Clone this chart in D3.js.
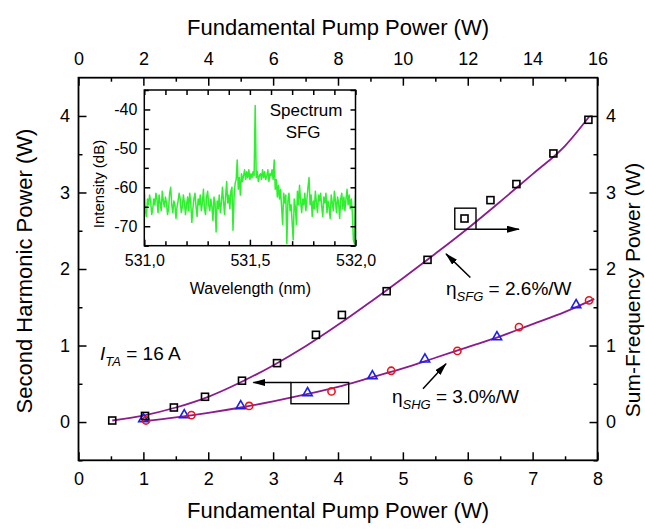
<!DOCTYPE html>
<html>
<head>
<meta charset="utf-8">
<script src="https://cdn.jsdelivr.net/npm/d3@7"></script>
<style>
  body { margin: 0; background: #fff; }
  svg { font-family: "Liberation Sans", Arial, sans-serif; }
</style>
</head>
<body>
<svg id="chart" width="645" height="529"></svg>
<script>
// SFG: black squares (right axis), x in bottom-axis units
const sfgX = [0.52, 1.025, 1.47, 1.95, 2.52, 3.06, 3.66, 4.06, 4.75, 5.38, 5.95, 6.35, 6.75, 7.32, 7.86];
const sfgY = [0.02, 0.08, 0.19, 0.33, 0.54, 0.77, 1.14, 1.40, 1.71, 2.12, 2.66, 2.90, 3.11, 3.51, 3.95];
// SHG: blue triangles and red circles (left axis)
const shgTriX = [1.0, 1.63, 2.50, 3.53, 4.53, 5.34, 6.45, 7.67];
const shgTriY = [0.03, 0.08, 0.20, 0.37, 0.59, 0.81, 1.10, 1.52];
const shgCirX = [1.04, 1.74, 2.63, 3.90, 4.82, 5.84, 6.79, 7.87];
const shgCirY = [0.02, 0.09, 0.21, 0.40, 0.67, 0.93, 1.24, 1.59];
// fit curves
const sfgFitX = [0.52, 1, 1.5, 2, 2.5, 3, 3.5, 4, 4.5, 5, 5.5, 6, 6.5, 7, 7.5, 7.87];
const sfgFitY = [0.02, 0.085, 0.19, 0.33, 0.52, 0.74, 0.99, 1.27, 1.57, 1.88, 2.20, 2.53, 2.88, 3.24, 3.61, 3.99];
const shgFitX = [1.0, 1.5, 2, 2.5, 3, 3.5, 4, 4.5, 5, 5.5, 6, 6.5, 7, 7.5, 7.95];
const shgFitY = [0.01, 0.06, 0.12, 0.19, 0.27, 0.36, 0.46, 0.58, 0.70, 0.84, 0.98, 1.12, 1.28, 1.44, 1.61];

// inset spectrum (nm, dB)
const specWl = [
  531.000,531.005,531.010,531.015,531.020,531.025,531.030,531.035,531.040,531.045,
  531.050,531.055,531.060,531.065,531.070,531.075,531.080,531.085,531.090,531.095,
  531.100,531.105,531.110,531.115,531.120,531.125,531.130,531.135,531.140,531.145,
  531.150,531.155,531.160,531.165,531.170,531.175,531.180,531.185,531.190,531.195,
  531.200,531.205,531.210,531.215,531.220,531.225,531.230,531.235,531.240,531.245,
  531.250,531.255,531.260,531.265,531.270,531.275,531.280,531.285,531.290,531.295,
  531.300,531.305,531.310,531.315,531.320,531.325,531.330,531.335,531.340,531.345,
  531.350,531.355,531.360,531.365,531.370,531.375,531.380,531.385,531.390,531.395,
  531.400,531.405,531.410,531.415,531.420,531.425,531.430,531.435,531.440,531.445,
  531.450,531.455,531.460,531.465,531.470,531.475,531.480,531.485,531.490,531.495,
  531.500,531.505,531.510,531.515,531.520,531.525,531.530,531.535,531.540,531.545,
  531.550,531.555,531.560,531.565,531.570,531.575,531.580,531.585,531.590,531.595,
  531.600,531.605,531.610,531.615,531.620,531.625,531.630,531.635,531.640,531.645,
  531.650,531.655,531.660,531.665,531.670,531.675,531.680,531.685,531.690,531.695,
  531.700,531.705,531.710,531.715,531.720,531.725,531.730,531.735,531.740,531.745,
  531.750,531.755,531.760,531.765,531.770,531.775,531.780,531.785,531.790,531.795,
  531.800,531.805,531.810,531.815,531.820,531.825,531.830,531.835,531.840,531.845,
  531.850,531.855,531.860,531.865,531.870,531.875,531.880,531.885,531.890,531.895,
  531.900,531.905,531.910,531.915,531.920,531.925,531.930,531.935,531.940,531.945,
  531.950,531.955,531.960,531.965,531.970,531.975,531.980,531.985,531.990,531.995,
  532.000];
const specDb = [
  -60.5,-66.0,-67.5,-63.0,-64.5,-62.0,-63.5,-67.0,-65.5,-63.0,
  -64.5,-61.5,-63.0,-66.5,-62.0,-64.0,-66.0,-61.0,-63.5,-65.0,
  -62.5,-64.0,-67.0,-65.5,-61.5,-60.0,-64.5,-66.5,-63.5,-64.5,
  -68.0,-65.0,-63.5,-61.5,-63.0,-66.5,-65.0,-62.0,-64.0,-67.0,
  -64.5,-62.5,-66.0,-61.5,-64.0,-69.0,-65.5,-63.0,-61.5,-65.0,
  -67.5,-63.0,-64.5,-62.0,-66.0,-64.0,-60.5,-65.5,-67.0,-62.5,
  -61.0,-64.5,-66.0,-63.0,-65.0,-68.5,-62.5,-64.0,-71.5,-63.5,
  -65.5,-62.0,-66.5,-64.0,-60.0,-63.5,-67.0,-62.5,-58.5,-64.0,
  -62.0,-65.5,-61.0,-60.0,-71.0,-62.5,-59.0,-58.0,-53.0,-60.5,
  -57.5,-62.0,-56.5,-58.5,-57.0,-55.5,-58.0,-56.0,-57.5,-55.5,
  -58.0,-56.5,-57.5,-56.0,-57.0,-39.0,-57.5,-56.0,-58.5,-57.0,
  -56.5,-58.0,-55.5,-57.5,-56.0,-58.0,-57.0,-55.5,-58.5,-56.5,
  -57.0,-55.5,-58.0,-53.0,-60.5,-58.0,-62.5,-59.5,-63.0,-60.5,
  -65.0,-69.5,-61.5,-64.0,-62.0,-74.5,-63.5,-61.5,-66.0,-64.5,
  -69.0,-73.5,-63.0,-65.0,-69.5,-61.0,-64.5,-59.5,-63.5,-66.5,
  -63.0,-64.5,-61.5,-66.0,-63.0,-60.0,-57.5,-64.5,-62.0,-67.5,
  -63.5,-65.5,-61.0,-64.0,-66.5,-62.0,-63.5,-61.5,-65.0,-67.5,
  -62.5,-64.0,-61.5,-66.5,-63.5,-65.0,-68.0,-62.0,-64.0,-66.0,
  -61.0,-63.5,-66.5,-62.5,-64.0,-68.0,-63.0,-61.5,-65.5,-62.5,
  -66.0,-63.0,-60.5,-64.5,-62.0,-65.5,-63.0,-66.5,-73.5,-74.5,
  -62.0];

const bottomTicks = [0, 1, 2, 3, 4, 5, 6, 7, 8];
const topTicks = [0, 2, 4, 6, 8, 10, 12, 14, 16];
const yTicks = [0, 1, 2, 3, 4];
const insetXTicks = [531.0, 531.5, 532.0];
const insetXLabels = ["531,0", "531,5", "532,0"];
const insetYTicks = [-70, -60, -50, -40];

const svg = d3.select("#chart");

const x = d3.scaleLinear([0, 8], [78.5, 597.5]);
const xTop = d3.scaleLinear([0, 16], [78.5, 597.5]);
const y = d3.scaleLinear([-0.5, 4.5], [460.3, 77.7]);

const ix = d3.scaleLinear([531, 532], [144.3, 355.5]);
const iy = d3.scaleLinear([-75, -35], [245.7, 90]);

const defs = svg.append("defs");
defs.append("marker")
    .attr("id", "head")
    .attr("markerUnits", "userSpaceOnUse")
    .attr("markerWidth", 13).attr("markerHeight", 7)
    .attr("refX", 12).attr("refY", 3.5)
    .attr("orient", "auto")
  .append("path")
    .attr("d", "M0,0L13,3.5L0,7Z")
    .attr("fill", "#000");
defs.append("clipPath").attr("id", "inclip")
  .append("rect")
    .attr("x", ix(531)).attr("y", iy(-35))
    .attr("width", ix(532) - ix(531)).attr("height", iy(-75) - iy(-35));

function styleAxis(g, size) {
  g.select(".domain").remove();
  g.selectAll("line").attr("stroke", "#000").attr("stroke-width", 1.5);
  g.selectAll("text").attr("fill", "#000").style("font-size", size + "px");
}

// main axes (ticks inward)
const H = y(-0.5), T = y(4.5), L = x(0), R = x(8);
const fmt = d3.format("d");

svg.append("g").attr("transform", `translate(0,${H})`)
    .call(d3.axisBottom(x).tickValues(bottomTicks).tickFormat(fmt).tickSize(-8).tickPadding(12))
    .call(g => styleAxis(g, 18));
svg.append("g").attr("transform", `translate(0,${H})`)
    .call(d3.axisBottom(x).tickValues([0.5, 1.5, 2.5, 3.5, 4.5, 5.5, 6.5, 7.5]).tickSize(-4).tickFormat(""))
    .call(g => styleAxis(g, 18));
svg.append("g").attr("transform", `translate(0,${T})`)
    .call(d3.axisTop(xTop).tickValues(topTicks).tickFormat(fmt).tickSize(-8).tickPadding(13))
    .call(g => styleAxis(g, 18));
svg.append("g").attr("transform", `translate(0,${T})`)
    .call(d3.axisTop(xTop).tickValues([1, 3, 5, 7, 9, 11, 13, 15]).tickSize(-4).tickFormat(""))
    .call(g => styleAxis(g, 18));
svg.append("g").attr("transform", `translate(${L},0)`)
    .call(d3.axisLeft(y).tickValues(yTicks).tickFormat(fmt).tickSize(-8).tickPadding(8.5))
    .call(g => styleAxis(g, 18));
svg.append("g").attr("transform", `translate(${L},0)`)
    .call(d3.axisLeft(y).tickValues([-0.5, 0.5, 1.5, 2.5, 3.5]).tickSize(-4).tickFormat(""))
    .call(g => styleAxis(g, 18));
svg.append("g").attr("transform", `translate(${R},0)`)
    .call(d3.axisRight(y).tickValues(yTicks).tickFormat(fmt).tickSize(-8).tickPadding(8.5))
    .call(g => styleAxis(g, 18));
svg.append("g").attr("transform", `translate(${R},0)`)
    .call(d3.axisRight(y).tickValues([-0.5, 0.5, 1.5, 2.5, 3.5]).tickSize(-4).tickFormat(""))
    .call(g => styleAxis(g, 18));

svg.append("rect")
    .attr("x", L).attr("y", T).attr("width", R - L).attr("height", H - T)
    .attr("fill", "none").attr("stroke", "#000").attr("stroke-width", 1.8);

// axis titles
svg.append("text").attr("x", (L + R) / 2).attr("y", 35)
    .attr("text-anchor", "middle").style("font-size", "22px")
    .text("Fundamental Pump Power (W)");
svg.append("text").attr("x", (L + R) / 2).attr("y", 518)
    .attr("text-anchor", "middle").style("font-size", "22px")
    .text("Fundamental Pump Power (W)");
svg.append("text").attr("transform", "translate(31.5,271) rotate(-90)")
    .attr("text-anchor", "middle").style("font-size", "22px")
    .text("Second Harmonic Power (W)");
svg.append("text").attr("transform", "translate(639.5,290) rotate(-90)")
    .attr("text-anchor", "middle").style("font-size", "21px")
    .text("Sum-Frequency Power (W)");

// fit curves
const purple = "#8b1c8e";
const line = d3.line().x(d => x(d[0])).y(d => y(d[1])).curve(d3.curveMonotoneX);
svg.append("path").datum(d3.zip(sfgFitX, sfgFitY))
    .attr("d", line).attr("fill", "none").attr("stroke", purple).attr("stroke-width", 1.8);
svg.append("path").datum(d3.zip(shgFitX, shgFitY))
    .attr("d", line).attr("fill", "none").attr("stroke", purple).attr("stroke-width", 1.8);

// markers
const tri = d3.symbol(d3.symbolTriangle, 38);
svg.append("g").selectAll("path").data(d3.zip(shgTriX, shgTriY)).join("path")
    .attr("transform", d => `translate(${x(d[0])},${y(d[1]) - 0.8})`)
    .attr("d", tri).attr("fill", "none").attr("stroke", "#1a1ff0").attr("stroke-width", 1.6);
svg.append("g").selectAll("circle").data(d3.zip(shgCirX, shgCirY)).join("circle")
    .attr("cx", d => x(d[0])).attr("cy", d => y(d[1])).attr("r", 3.6)
    .attr("fill", "none").attr("stroke", "#e8141e").attr("stroke-width", 1.6);
svg.append("g").selectAll("rect").data(d3.zip(sfgX, sfgY)).join("rect")
    .attr("x", d => x(d[0]) - 3.5).attr("y", d => y(d[1]) - 3.5)
    .attr("width", 7).attr("height", 7)
    .attr("fill", "none").attr("stroke", "#000").attr("stroke-width", 1.6);

// axis-indicator boxes and arrows
const boxes = [
  {x0: 5.80, x1: 6.127, y0: 2.52, y1: 2.795, ax: 6.127, ay: 2.52, tx: 6.79},
  {x0: 3.275, x1: 4.165, y0: 0.239, y1: 0.517, ax: 3.275, ay: 0.517, tx: 2.695}
];
boxes.forEach(b => {
  svg.append("rect")
      .attr("x", x(b.x0)).attr("y", y(b.y1))
      .attr("width", x(b.x1) - x(b.x0)).attr("height", y(b.y0) - y(b.y1))
      .attr("fill", "none").attr("stroke", "#000").attr("stroke-width", 1.4);
  svg.append("line")
      .attr("x1", x(b.ax)).attr("y1", y(b.ay)).attr("x2", x(b.tx)).attr("y2", y(b.ay))
      .attr("stroke", "#000").attr("stroke-width", 1.4).attr("marker-end", "url(#head)");
});

// efficiency arrows
const pointers = [
  {x1: 6.04, y1: 1.89, x2: 5.665, y2: 2.198},
  {x1: 5.31, y1: 0.435, x2: 5.665, y2: 0.761}
];
pointers.forEach(p => {
  svg.append("line")
      .attr("x1", x(p.x1)).attr("y1", y(p.y1)).attr("x2", x(p.x2)).attr("y2", y(p.y2))
      .attr("stroke", "#000").attr("stroke-width", 1.5).attr("marker-end", "url(#head)");
});

// labels
function label(px, py, main, sub, rest, italicMain) {
  const t = svg.append("text").attr("x", x(px)).attr("y", y(py)).style("font-size", "19px");
  t.append("tspan").text(main).style("font-style", italicMain ? "italic" : "normal");
  t.append("tspan").attr("dy", 6).style("font-size", "13px").style("font-style", "italic").text(sub);
  t.append("tspan").attr("dy", -6).text(rest);
}
label(5.665, 1.662, "η", "SFG", " = 2.6%/W", false);
label(4.832, 0.252, "η", "SHG", " = 3.0%/W", false);
label(0.331, 0.814, "I", "TA", " = 16 A", true);

// inset
const inset = svg.append("g");
inset.append("rect")
    .attr("x", ix(531)).attr("y", iy(-35))
    .attr("width", ix(532) - ix(531)).attr("height", iy(-75) - iy(-35))
    .attr("fill", "#fff");

inset.append("path").datum(d3.zip(specWl, specDb))
    .attr("clip-path", "url(#inclip)")
    .attr("d", d3.line().x(d => ix(d[0])).y(d => iy(d[1])))
    .attr("fill", "none").attr("stroke", "#2ef02e").attr("stroke-width", 1.5)
    .attr("stroke-linejoin", "round");

const iMinorX = [531.1, 531.2, 531.3, 531.4, 531.6, 531.7, 531.8, 531.9];
const iMinorY = [-75, -65, -55, -45, -35];
const IB = iy(-75), IT = iy(-35), IL = ix(531), IR = ix(532);

inset.append("g").attr("transform", `translate(0,${IB})`)
    .call(d3.axisBottom(ix).tickValues(insetXTicks).tickSize(-6).tickPadding(8.5)
      .tickFormat((d, i) => insetXLabels[i]))
    .call(g => styleAxis(g, 16));
inset.append("g").attr("transform", `translate(0,${IB})`)
    .call(d3.axisBottom(ix).tickValues(iMinorX).tickSize(-4.5).tickFormat(""))
    .call(g => styleAxis(g, 16));
inset.append("g").attr("transform", `translate(0,${IT})`)
    .call(d3.axisTop(ix).tickValues(insetXTicks.concat(iMinorX)).tickSize(-5).tickFormat(""))
    .call(g => styleAxis(g, 16));
inset.append("g").attr("transform", `translate(${IL},0)`)
    .call(d3.axisLeft(iy).tickValues(insetYTicks).tickSize(-6).tickPadding(7)
      .tickFormat(d => String(d)))
    .call(g => styleAxis(g, 16));
inset.append("g").attr("transform", `translate(${IL},0)`)
    .call(d3.axisLeft(iy).tickValues(iMinorY).tickSize(-4.5).tickFormat(""))
    .call(g => styleAxis(g, 16));
inset.append("g").attr("transform", `translate(${IR},0)`)
    .call(d3.axisRight(iy).tickValues(insetYTicks.concat(iMinorY)).tickSize(-5).tickFormat(""))
    .call(g => styleAxis(g, 16));

inset.append("rect")
    .attr("x", IL).attr("y", IT).attr("width", IR - IL).attr("height", IB - IT)
    .attr("fill", "none").attr("stroke", "#000").attr("stroke-width", 1.5);

inset.append("text").attr("x", (IL + IR) / 2 + 0.5).attr("y", 294)
    .attr("text-anchor", "middle").style("font-size", "16px").text("Wavelength (nm)");
inset.append("text").attr("transform", "translate(103.5,184) rotate(-90)")
    .attr("text-anchor", "middle").style("font-size", "15px").text("Intensity (dB)");
inset.append("text").attr("x", ix(531.766)).attr("y", iy(-41.7))
    .attr("text-anchor", "middle").style("font-size", "17px").text("Spectrum");
inset.append("text").attr("x", ix(531.752)).attr("y", iy(-47.3))
    .attr("text-anchor", "middle").style("font-size", "17px").text("SFG");
</script>
</body>
</html>
